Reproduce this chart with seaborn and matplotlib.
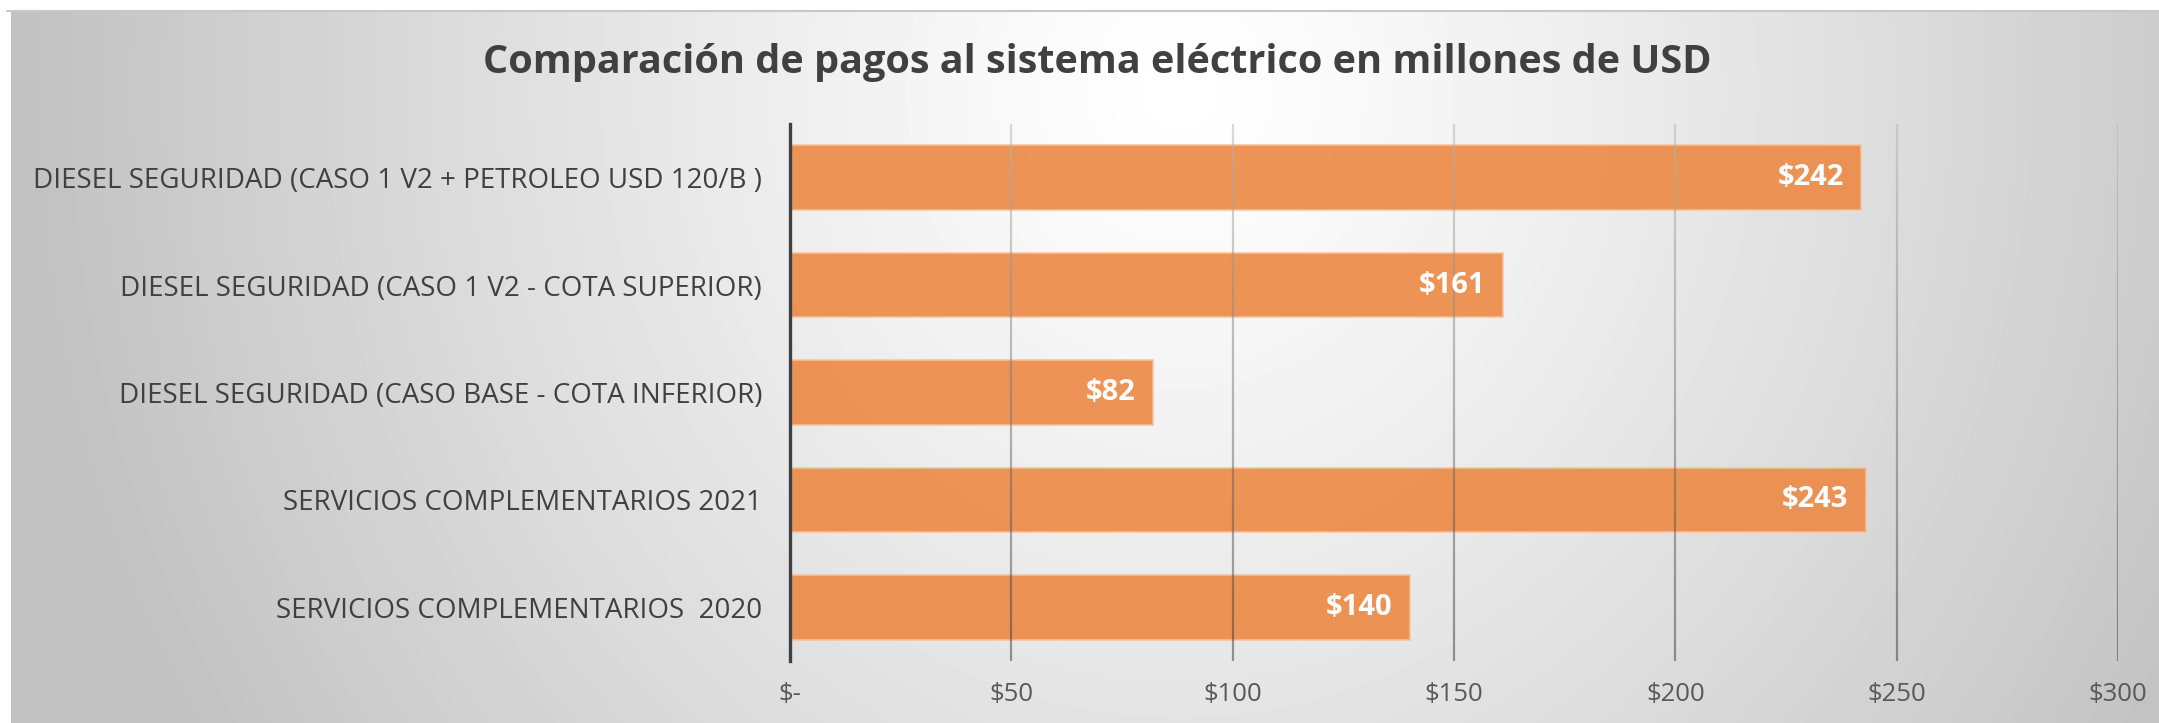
import matplotlib
matplotlib.use("Agg")
import matplotlib.pyplot as plt
import seaborn as sns
import numpy as np
import pandas as pd

# Chart data
categories = [
    "DIESEL SEGURIDAD (CASO 1 V2 + PETROLEO USD 120/B )",
    "DIESEL SEGURIDAD (CASO 1 V2 - COTA SUPERIOR)",
    "DIESEL SEGURIDAD (CASO BASE - COTA INFERIOR)",
    "SERVICIOS COMPLEMENTARIOS 2021",
    "SERVICIOS COMPLEMENTARIOS  2020",
]
values = [242, 161, 82, 243, 140]
x_ticks = [0, 50, 100, 150, 200, 250, 300]
x_labels = ["$-", "$50", "$100", "$150", "$200", "$250", "$300"]

df = pd.DataFrame({"Categoria": categories, "Pago": values})

sns.set_style("white")
plt.rcParams["font.family"] = ["Open Sans", "DejaVu Sans"]

W, H = 2159, 723
fig = plt.figure(figsize=(W / 100, H / 100), dpi=100)
fig.patch.set_facecolor("white")

# Gradient background (light centre near the top, grey at the edges)
bg = fig.add_axes([11 / W, 0, 1 - 11 / W, (H - 11) / H], zorder=0)
gx, gy = np.meshgrid(np.linspace(11, W, 400), np.linspace(11, H, 150))
d = np.sqrt(((gx - 1180) / 1150) ** 2 + ((gy - 90) / 1250) ** 2)
shade = 1.0 - 0.24 * np.clip(d, 0, 1) ** 1.2
bg.imshow(shade, cmap="gray", vmin=0, vmax=1, aspect="auto",
          extent=[0, 1, 0, 1], interpolation="bilinear")
bg.set_axis_off()
fig.add_artist(plt.Line2D([7 / W, 1], [1 - 11 / H, 1 - 11 / H],
                          color="#c8c8c8", lw=1.5))

# Main chart
ax = fig.add_axes([790 / W, (H - 661) / H, (2118 - 790) / W, (661 - 124) / H], zorder=1)
ax.patch.set_alpha(0)
sns.barplot(data=df, x="Pago", y="Categoria", color="#ED8B48", width=0.6,
            orient="h", ax=ax, zorder=2, alpha=0.92,
            edgecolor="#F6C29C", linewidth=1.2, saturation=1)

ax.set_xlim(0, 300)
ax.set_ylim(4.5, -0.5)

# gridlines on top of the bars, darker towards the bottom
n = 60
ys = np.linspace(4.5, -0.5, n + 1)
for xv in x_ticks[1:]:
    for i in range(n):
        t = i / n
        c = 0.22 + 0.5 * t
        ax.plot([xv, xv], [ys[i], ys[i + 1]], color=(c, c, c), alpha=0.5,
                lw=1.6, zorder=3, solid_capstyle="butt")

for s in ["top", "right", "bottom"]:
    ax.spines[s].set_visible(False)
ax.spines["left"].set_color("#404040")
ax.spines["left"].set_linewidth(2.4)
ax.spines["left"].set_zorder(4)

ax.set_xticks(x_ticks)
ax.set_xticklabels(x_labels)
ax.tick_params(axis="x", length=0, pad=15, labelsize=18.5, labelcolor="#595959")
ax.tick_params(axis="y", length=0, pad=20, labelsize=20, labelcolor="#404040")
ax.set_xlabel("")
ax.set_ylabel("")

for i, v in enumerate(values):
    ax.text(v - 4, i, f"${v}", ha="right", va="center", color="white",
            fontsize=21, fontweight="bold", zorder=5)

fig.text(1097 / W, 1 - 62 / H, "Comparación de pagos al sistema eléctrico en millones de USD",
         ha="center", va="center", fontsize=28.5, fontweight="bold", color="#404040")

fig.savefig("out.png", dpi=100)
